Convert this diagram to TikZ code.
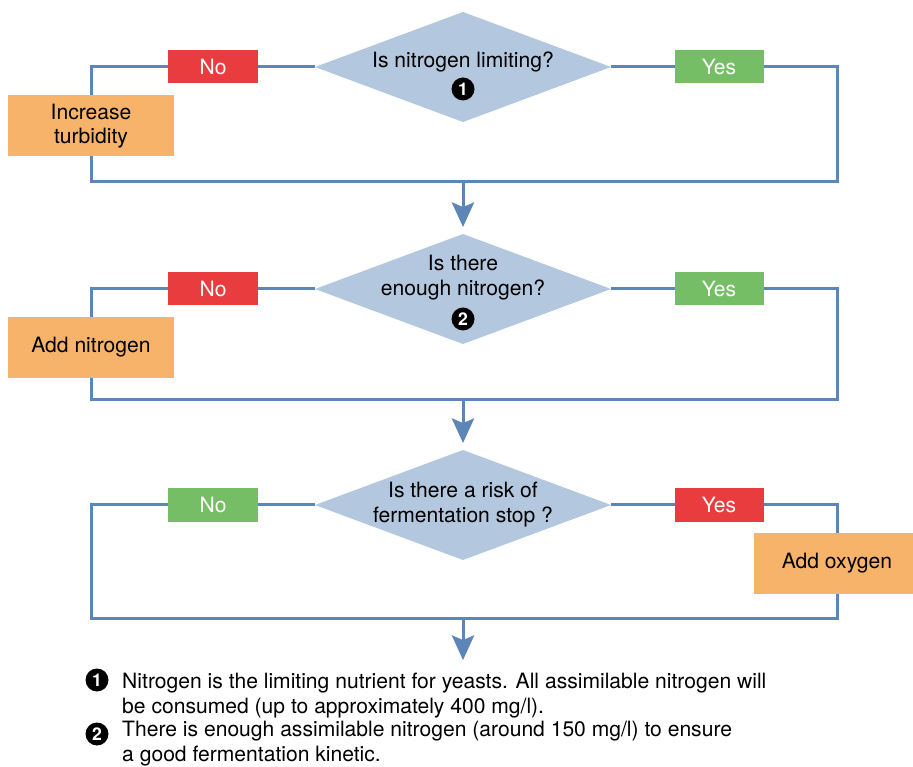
\documentclass[tikz,border=0pt]{standalone}
\usepackage{fontspec}
\setmainfont{TeX Gyre Heros}
\usetikzlibrary{positioning,shapes.geometric,arrows.meta}

\definecolor{flowblue}{RGB}{91,134,183}
\definecolor{qfill}{RGB}{179,199,222}
\definecolor{nored}{RGB}{232,60,62}
\definecolor{yesgreen}{RGB}{118,190,101}
\definecolor{actfill}{RGB}{247,179,106}

\begin{document}
\begin{tikzpicture}[x=0.03cm, y=-0.03cm,
		question/.style={diamond, fill=qfill, inner sep=0pt, outer sep=0pt, minimum width=8.88cm, minimum height=3.3cm},
		qtext/.style={align=center, inner sep=0pt, anchor=base, font=\fontsize{18}{22}\selectfont},
		answer/.style={fill=#1, text=white, inner sep=0pt, outer sep=0pt, minimum width=2.67cm, minimum height=0.99cm, font=\fontsize{18}{21}\selectfont},
		action/.style={fill=actfill, inner sep=0pt, outer sep=0pt, minimum width=4.98cm, minimum height=1.83cm, align=center, font=\fontsize{18}{20}\selectfont},
		marker/.style={circle, fill=black, text=white, inner sep=0pt, minimum size=0.69cm, font=\fontsize{15}{15}\selectfont\bfseries},
		note/.style={align=left, inner sep=0pt, anchor=base west, font=\fontsize{18}{21.3}\selectfont},
		flow/.style={draw=flowblue, line width=0.09cm},
		arrow/.style={flow, -{Stealth[length=21pt, width=19pt, inset=4pt]}, shorten >=0.21cm}]
		\useasboundingbox (0,0) rectangle (913,767);

		% first question
		\node[question] (q1) at (463,67) {};
		\node[qtext] (q1text) at (463,68) {Is nitrogen limiting?};
		\node[marker] (q1mark) at (463,89) {1};
		\node[answer=nored] (no1) at (213,67) {No};
		\node[answer=yesgreen] (yes1) at (719,67) {Yes};
		\node[action] (act1) at (91,126) {Increase\\turbidity};
		\coordinate (r1) at (837,182);
		\coordinate (m1) at (463,182);
		\draw[flow] (q1.west) -- (no1.east);
		\draw[flow] (no1.west) -| (act1.north);
		\draw[flow] (act1.south) |- (r1) |- (yes1.east);
		\draw[flow] (yes1.west) -- (q1.east);

		% second question
		\node[question] (q2) at (463,289) {};
		\node[qtext] (q2text) at (463,296) {Is there\\enough nitrogen?};
		\node[marker] (q2mark) at (463,319) {2};
		\node[answer=nored] (no2) at (213,289) {No};
		\node[answer=yesgreen] (yes2) at (719,289) {Yes};
		\node[action] (act2) at (91,347.5) {Add nitrogen};
		\coordinate (r2) at (837,400);
		\coordinate (m2) at (463,400);
		\draw[arrow] (m1) -- (q2.north);
		\draw[flow] (q2.west) -- (no2.east);
		\draw[flow] (no2.west) -| (act2.north);
		\draw[flow] (act2.south) |- (r2) |- (yes2.east);
		\draw[flow] (yes2.west) -- (q2.east);

		% third question
		\node[question] (q3) at (463,505) {};
		\node[qtext] (q3text) at (463,523) {Is there a risk of\\fermentation stop ?};
		\node[answer=yesgreen] (no3) at (213,505) {No};
		\node[answer=nored] (yes3) at (719,505) {Yes};
		\node[action] (act3) at (837,563.5) {Add oxygen};
		\coordinate (l3) at (91,618);
		\coordinate (m3) at (463,618);
		\coordinate (e3) at (463,660);
		\draw[arrow] (m2) -- (q3.north);
		\draw[flow] (q3.west) -- (no3.east);
		\draw[flow] (no3.west) -| (l3) -| (act3.south);
		\draw[flow] (act3.north) |- (yes3.east);
		\draw[flow] (yes3.west) -- (q3.east);
		\draw[arrow, shorten >=0pt] (m3) -- (e3);

		% notes
		\node[marker] (fn1mark) at (97,680) {1};
		\node[note] (fn1) at (122,713) {Nitrogen is the limiting nutrient for yeasts. All assimilable nitrogen will\\be consumed (up to approximately 400 mg/l).};
		\node[marker] (fn2mark) at (97,734) {2};
		\node[note] (fn2) at (122,761) {There is enough assimilable nitrogen (around 150 mg/l) to ensure\\a good fermentation kinetic.};
	\end{tikzpicture}
\end{document}
